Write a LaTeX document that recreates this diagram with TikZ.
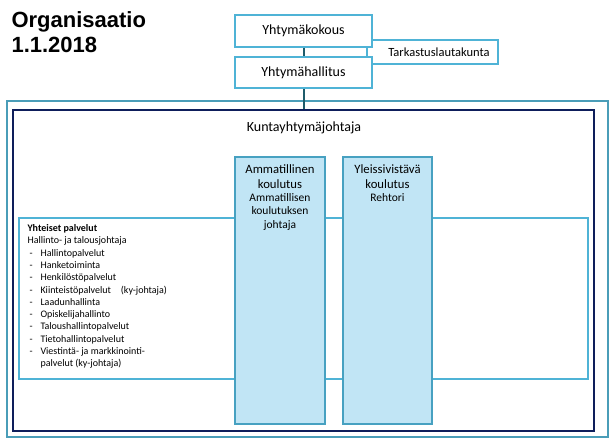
\documentclass[tikz,border=0pt]{standalone}
\usepackage{fontspec}
\setmainfont{Carlito}
\newfontfamily\arialfont{Liberation Sans}
\definecolor{vaalea}{HTML}{4FB3D6}
\definecolor{sarakevari}{HTML}{C1E5F5}
\definecolor{kehysvari}{HTML}{4A9DB8}
\definecolor{tumma}{HTML}{0E1E5B}
\definecolor{liitosvari}{HTML}{1F5C6B}

\begin{document}
\begin{tikzpicture}[x=1pt,y=-1pt,
        laatikko/.style={draw=vaalea,line width=1.6pt,fill=white,inner sep=0pt,font=\fontsize{14}{16}\selectfont},
        sarake/.style={draw=vaalea!90!black,line width=1.4pt,fill=sarakevari,inner sep=0pt},
        liitos/.style={draw=liitosvari,line width=2pt}]
        \useasboundingbox (0,0) rectangle (611,442);
        \node[anchor=north west,align=left,font=\arialfont\bfseries\fontsize{22}{25}\selectfont] (otsikko) at (8,8) {Organisaatio\\1.1.2018};
        
        \node[draw=kehysvari,line width=1.8pt,minimum width=601pt,minimum height=336pt] (kehys) at (307.5,269) {};
        \node[draw=tumma,line width=2.4pt,minimum width=581pt,minimum height=321pt] (johto) at (303.5,270.5) {};
        \node[font=\fontsize{14}{16}\selectfont] (kyj) at (304,128) {Kuntayhtymäjohtaja};
        
        \node[laatikko,minimum width=131pt,minimum height=24pt,font=\fontsize{12.5}{14}\selectfont] (tarkastus) at (432.5,52) {\hspace*{13pt}Tarkastuslautakunta};
        \node[laatikko,minimum width=137pt,minimum height=32pt] (kokous) at (303.5,31) {Yhtymäkokous};
        \node[laatikko,minimum width=137pt,minimum height=31pt] (hallitus) at (303.5,72.5) {Yhtymähallitus};
        \draw[liitos] (kokous) -- (hallitus);
        \draw[liitos] (hallitus.south) -- (hallitus.south |- johto.north);
        
        \node[laatikko,line width=1.4pt,minimum width=569pt,minimum height=161pt] (yhteiset) at (303.5,298.5) {};
        \node[anchor=north west,align=left,font=\fontsize{10}{12.3}\selectfont] (palvelut) at (24,221) {\textbf{Yhteiset palvelut}\\
            Hallinto- ja talousjohtaja\\
            \hspace*{2pt}\makebox[11pt][l]{-}Hallintopalvelut\\
            \hspace*{2pt}\makebox[11pt][l]{-}Hanketoiminta\\
            \hspace*{2pt}\makebox[11pt][l]{-}Henkilöstöpalvelut\\
            \hspace*{2pt}\makebox[11pt][l]{-}Kiinteistöpalvelut\quad(ky-johtaja)\\
            \hspace*{2pt}\makebox[11pt][l]{-}Laadunhallinta\\
            \hspace*{2pt}\makebox[11pt][l]{-}Opiskelijahallinto\\
            \hspace*{2pt}\makebox[11pt][l]{-}Taloushallintopalvelut\\
            \hspace*{2pt}\makebox[11pt][l]{-}Tietohallintopalvelut\\
            \hspace*{2pt}\makebox[11pt][l]{-}Viestintä- ja markkinointi-\\
            \hspace*{13pt}palvelut (ky-johtaja)};
        
        \node[sarake,minimum width=90pt,minimum height=267pt] (ammatillinen) at (280,290.5) {};
        \node[sarake,minimum width=89pt,minimum height=267pt] (yleis) at (387.5,290.5) {};
        \node[anchor=north,align=center,font=\fontsize{12.7}{15}\selectfont,yshift=-5pt] (amm) at (ammatillinen.north) {Ammatillinen\\koulutus};
        \node[anchor=north,align=center,font=\fontsize{11.5}{13.5}\selectfont,inner sep=0pt,yshift=-1pt] (ammjohto) at (amm.south) {Ammatillisen\\koulutuksen\\johtaja};
        \node[anchor=north,align=center,font=\fontsize{12.7}{15}\selectfont,yshift=-5pt] (yle) at (yleis.north) {Yleissivistävä\\koulutus};
        \node[anchor=north,align=center,font=\fontsize{11.5}{13.5}\selectfont,inner sep=0pt,yshift=-1pt] (rehtori) at (yle.south) {Rehtori};
    \end{tikzpicture}
\end{document}
